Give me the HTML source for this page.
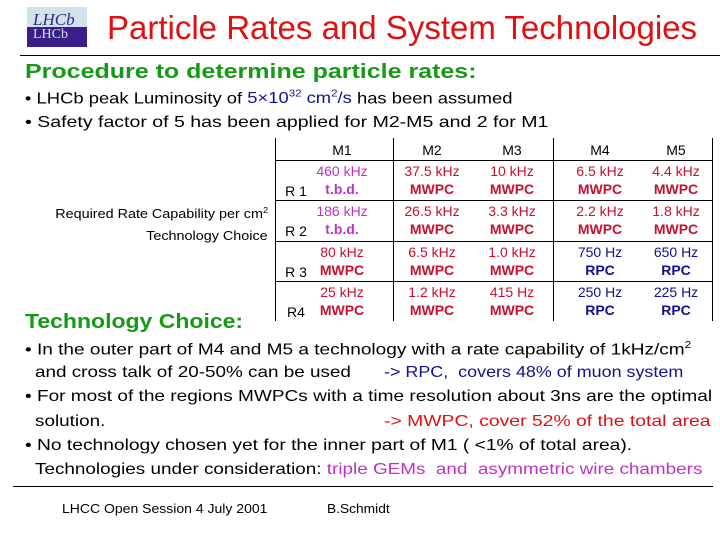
<!DOCTYPE html>
<html><head><meta charset="utf-8"><style>
body{margin:0;width:720px;height:540px;background:#fff;position:relative;overflow:hidden;font-family:"Liberation Sans",sans-serif;}
.t{position:absolute;white-space:nowrap;line-height:1;transform-origin:left top;}
.c{position:absolute;white-space:nowrap;line-height:1;transform:translateX(-50%);font-size:14px;}
.r{color:#c8102e}.m{color:#c030c8}.b{color:#101090}.g{color:#159a15}
.k{font-weight:bold}
.hl{position:absolute;height:1px;background:#000}
.vl{position:absolute;width:1px;background:#000}
</style></head><body>
<div style="position:absolute;left:27px;top:7px;width:60px;height:40px;background:linear-gradient(#cfe4ea 0 50%,#3a1f8a 50% 100%);">
<div class="t" style="left:6px;top:4px;font-family:'Liberation Serif',serif;font-style:italic;font-size:17px;color:#3a1f8a;">LHCb</div>
<div class="t" style="left:6px;top:21px;font-family:'Liberation Serif',serif;font-size:14px;color:#cfe4ea;">LHCb</div>
</div>
<div class="t r" style="left:107px;top:11px;font-size:33px;color:#e01010;">Particle Rates and System Technologies</div>
<div class="hl" style="left:20px;top:55px;width:700px;"></div>
<div class="t g k" style="left:25px;top:62px;font-size:20px;transform:scaleX(1.25);">Procedure to determine particle rates:</div>
<div class="t" style="left:25px;top:90px;font-size:16px;transform:scaleX(1.15);">• LHCb peak Luminosity of <span class="b">5×10<sup style="font-size:10px">32</sup> cm<sup style="font-size:10px">2</sup>/s</span> has been assumed</div>
<div class="t" style="left:25px;top:115px;font-size:16px;transform:scaleX(1.22);">• Safety factor of 5 has been applied for M2-M5 and 2 for M1</div>

<div class="t" style="right:452px;top:207px;font-size:12.5px;transform-origin:right top;transform:scaleX(1.15);">Required Rate Capability per cm<sup style="font-size:8px">2</sup></div>
<div class="t" style="right:452px;top:230px;font-size:12.5px;transform-origin:right top;transform:scaleX(1.15);">Technology Choice</div>

<div>
<div class="vl" style="left:275px;top:138px;height:183px;"></div>
<div class="vl" style="left:393px;top:138px;height:183px;"></div>
<div class="vl" style="left:553px;top:138px;height:183px;"></div>
<div class="vl" style="left:712px;top:138px;height:183px;"></div>
<div class="hl" style="left:275px;top:160px;width:438px;"></div>
<div class="hl" style="left:275px;top:200px;width:438px;"></div>
<div class="hl" style="left:275px;top:241px;width:438px;"></div>
<div class="hl" style="left:275px;top:281px;width:438px;"></div>
</div>
<div id="cells"></div>

<div class="t g k" style="left:25px;top:312px;font-size:20px;transform:scaleX(1.15);">Technology Choice:</div>
<div style="font-size:16px;">
<div class="t" style="left:25px;top:341px;font-size:16px;transform:scaleX(1.19);">• In the outer part of M4 and M5 a technology with a rate capability of 1kHz/cm<sup style="font-size:10px">2</sup></div>
<div class="t" style="left:35px;top:365px;font-size:16px;transform:scaleX(1.18);">and cross talk of 20-50% can be used</div>
<div class="t b" style="left:384px;top:365px;font-size:16px;transform:scaleX(1.12);">-&gt; RPC,&nbsp; covers 48% of muon system</div>
<div class="t" style="left:25px;top:389px;font-size:16px;transform:scaleX(1.19);">• For most of the regions MWPCs with a time resolution about 3ns are the optimal</div>
<div class="t" style="left:35px;top:414px;font-size:16px;transform:scaleX(1.18);">solution.</div>
<div class="t r" style="left:384px;top:414px;font-size:16px;color:#e01010;transform:scaleX(1.21);">-&gt; MWPC, cover 52% of the total area</div>
<div class="t" style="left:25px;top:438px;font-size:16px;transform:scaleX(1.2);">• No technology chosen yet for the inner part of M1 ( &lt;1% of total area).</div>
<div class="t" style="left:35px;top:462px;font-size:16px;transform:scaleX(1.18);">Technologies under consideration: <span class="m">triple GEMs&nbsp; and&nbsp; asymmetric wire chambers</span></div>
</div>
<div class="hl" style="left:13px;top:486px;width:700px;"></div>
<div class="t" style="left:62px;top:503px;font-size:12.5px;transform:scaleX(1.12);">LHCC Open Session 4 July 2001</div>
<div class="t" style="left:327px;top:503px;font-size:12.5px;transform:scaleX(1.1);">B.Schmidt</div>

<script>
const stations=["M1","M2","M3","M4","M5"];
const regions=["R 1","R 2","R 3","R4"];
const rates=[["460 kHz","37.5 kHz","10 kHz","6.5 kHz","4.4 kHz"],["186 kHz","26.5 kHz","3.3 kHz","2.2 kHz","1.8 kHz"],["80 kHz","6.5 kHz","1.0 kHz","750 Hz","650 Hz"],["25 kHz","1.2 kHz","415 Hz","250 Hz","225 Hz"]];
const techs=[["t.b.d.","MWPC","MWPC","MWPC","MWPC"],["t.b.d.","MWPC","MWPC","MWPC","MWPC"],["MWPC","MWPC","MWPC","RPC","RPC"],["MWPC","MWPC","MWPC","RPC","RPC"]];
const colX=[342,432,512,600,676];
const rowY=[164,204,245,285];
const host=document.getElementById('cells');
function cls(t){return t==="t.b.d."?"m":(t==="RPC"?"b":"r");}
function mk(txt,x,y,c,extra){const d=document.createElement('div');d.className='c '+c+(extra||'');d.style.left=x+'px';d.style.top=y+'px';d.textContent=txt;host.appendChild(d);return d;}
stations.forEach((s,i)=>{const d=mk(s,colX[i],143,'');

});
regions.forEach((r,j)=>{const d=mk(r,296,rowY[j]+20,'');


stations.forEach((s,i)=>{const c=cls(techs[j][i]);
const a=mk(rates[j][i],colX[i],rowY[j],c);


const b=mk(techs[j][i],colX[i],rowY[j]+18,c,' k');

});});
</script>
</body></html>
